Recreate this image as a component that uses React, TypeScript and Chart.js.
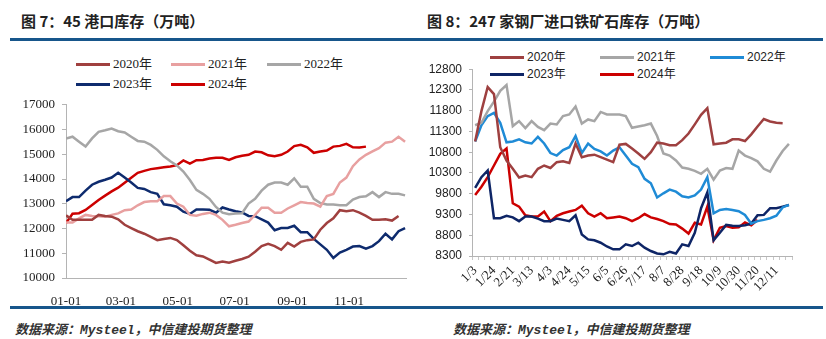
import React, { useEffect, useRef } from 'react';
import { Chart, registerables } from 'chart.js';

Chart.register(...registerables);

// ---------------- 图 7：45 港口库存 ----------------
const PORT_TITLE = '图 7：45 港口库存（万吨）';
const PORT_SERIES = ['2020年', '2021年', '2022年', '2023年', '2024年'];
const PORT_WEEK_DAYS = [0, 7, 14, 21, 28, 35, 42, 49, 56, 63, 70, 77, 84, 91, 98, 105, 112, 119, 126, 133, 140, 147, 154, 161, 168, 175, 182, 189, 196, 203, 210, 217, 224, 231, 238, 245, 252, 259, 266, 273, 280, 287, 294, 301, 308, 315, 322, 329, 336, 343, 350, 357, 364];
const PORT_TICK_DAYS = [0, 59, 120, 181, 243, 304];
const PORT_TICK_LABELS = ['01-01', '03-01', '05-01', '07-01', '09-01', '11-01'];
const PORT_Y_MIN = 10000;
const PORT_Y_MAX = 17000;
const PORT_Y_STEP = 1000;

const PORT_2020 = [12530, 12350, 12350, 12350, 12350, 12550, 12510, 12480, 12370, 12150, 12020, 11890, 11790, 11660, 11530, 11580, 11620, 11530, 11320, 11100, 10920, 10870, 10740, 10610, 10670, 10620, 10700, 10770, 10860, 11060, 11290, 11380, 11290, 11140, 11420, 11270, 11460, 11530, 11560, 11950, 12220, 12410, 12740, 12700, 12740, 12640, 12510, 12350, 12350, 12370, 12320, 12510];
const PORT_2021 = [12240, 12240, 12410, 12550, 12510, 12500, 12480, 12550, 12610, 12740, 12770, 12940, 13070, 13100, 13100, 13310, 13310, 13010, 12880, 12550, 12520, 12590, 12640, 12550, 12350, 12090, 12150, 12220, 12280, 12550, 12840, 12840, 12640, 12640, 12810, 12940, 13070, 13030, 13010, 12880, 13310, 13400, 13860, 14060, 14520, 14790, 14980, 15120, 15250, 15470, 15510, 15710, 15510];
const PORT_2022 = [15640, 15710, 15510, 15310, 15640, 15910, 15970, 16040, 15930, 15880, 15710, 15540, 15510, 15380, 15180, 14920, 14720, 14550, 14300, 13960, 13560, 13400, 13200, 12870, 12640, 12580, 12610, 12620, 13010, 13200, 13530, 13770, 13860, 13860, 13770, 14030, 13690, 13690, 13200, 13030, 12970, 12970, 12940, 12940, 13170, 13270, 13300, 13470, 13270, 13470, 13400, 13400, 13340];
const PORT_2023 = [13100, 13270, 13270, 13530, 13770, 13890, 13970, 14060, 14250, 14060, 13860, 13640, 13600, 13470, 13400, 12980, 12940, 12880, 12680, 12590, 12770, 12770, 12760, 12640, 12850, 12770, 12700, 12650, 12510, 12500, 12370, 12240, 11930, 12020, 12020, 12110, 11850, 11850, 11580, 11360, 11140, 10810, 11030, 11140, 11270, 11290, 11190, 11290, 11490, 11790, 11560, 11890, 12020];
const PORT_2024 = [12220, 12600, 12620, 12750, 12950, 13150, 13330, 13500, 13650, 13850, 14050, 14250, 14330, 14400, 14440, 14480, 14510, 14560, 14750, 14620, 14760, 14770, 14830, 14860, 14860, 14770, 14880, 14940, 14980, 15110, 15080, 14960, 14920, 14980, 15110, 15330, 15380, 15280, 15060, 15110, 15150, 15310, 15340, 15420, 15280, 15270, 15310];
const PORT_COLORS = ['#A0403F', '#E8A0A0', '#A6A6A6', '#0E2B6E', '#CC0000'];

// ---------------- 图 8：247 家钢厂进口铁矿石库存 ----------------
const MILL_TITLE = '图 8：247 家钢厂进口铁矿石库存（万吨）';
const MILL_SERIES = ['2020年', '2021年', '2022年', '2023年', '2024年'];
const MILL_DATES = ['1/3', '1/10', '1/17', '1/24', '1/31', '2/7', '2/21', '2/28', '3/6', '3/13', '3/20', '3/27', '4/3', '4/10', '4/17', '4/24', '5/1', '5/8', '5/15', '5/22', '5/29', '6/5', '6/12', '6/19', '6/26', '7/3', '7/10', '7/17', '7/24', '7/31', '8/7', '8/14', '8/21', '8/28', '9/4', '9/11', '9/18', '9/25', '10/2', '10/9', '10/16', '10/23', '10/30', '11/6', '11/13', '11/20', '11/27', '12/4', '12/11', '12/18', '12/25'];
const MILL_Y_MIN = 8300;
const MILL_Y_MAX = 12800;
const MILL_Y_STEP = 500;

const MILL_2020 = [11060, 11790, 12370, 12200, 10920, 10600, 10400, 10190, 10240, 10200, 10400, 10480, 10420, 10560, 10580, 10540, 11010, 10680, 10720, 10740, 10680, 10620, 10560, 10980, 11000, 10890, 10770, 10640, 10800, 11030, 11010, 10970, 10970, 11090, 11250, 11470, 11700, 11860, 10990, 11010, 11030, 11110, 11110, 11070, 11230, 11420, 11600, 11540, 11510, 11500];
const MILL_2021 = [11450, 11510, 11790, 12020, 12280, 12420, 11430, 11550, 11380, 11550, 11410, 11330, 11490, 11470, 11670, 11710, 11900, 11490, 11590, 11550, 11770, 11710, 11710, 11710, 11670, 11390, 11420, 11450, 11490, 11190, 10770, 10720, 10600, 10430, 10400, 10350, 10280, 10400, 10140, 10360, 10420, 10400, 10840, 10720, 10660, 10580, 10400, 10330, 10600, 10830, 11000];
const MILL_2022 = [11060, 11450, 11670, 11750, 11510, 11040, 11060, 11110, 11040, 11010, 11170, 11010, 10780, 10720, 10850, 10920, 11190, 10780, 11010, 10880, 10820, 10720, 10840, 10920, 10720, 10520, 10440, 10160, 10050, 9710, 9810, 9900, 9850, 9740, 9710, 9760, 9900, 10200, 9330, 9410, 9430, 9410, 9380, 9290, 9080, 9140, 9170, 9210, 9270, 9470, 9530];
const MILL_2023 = [9940, 10200, 10360, 9210, 9210, 9270, 9230, 9140, 9250, 9250, 9200, 9140, 9140, 9200, 9170, 9140, 9280, 8820, 8700, 8680, 8620, 8530, 8460, 8460, 8580, 8540, 8620, 8500, 8420, 8360, 8340, 8400, 8360, 8580, 8540, 8860, 9450, 9830, 8680, 8860, 9050, 9030, 9020, 9040, 9080, 9280, 9290, 9450, 9450, 9490, 9530];
const MILL_2024 = [9770, 9970, 10200, 10480, 10760, 10890, 9570, 9490, 9280, 9250, 9250, 9370, 9140, 9270, 9330, 9370, 9410, 9510, 9330, 9250, 9330, 9210, 9230, 9250, 9210, 9140, 9210, 9310, 9230, 9190, 9140, 9070, 9060, 8960, 8840, 9100, 9060, 9490, 8680, 8980, 9020, 8980, 8990, 9110, 9040, 9170];
const MILL_COLORS = ['#9E4040', '#A6A6A6', '#1F8BD6', '#0E2566', '#CC0000'];

const SOURCE_TEXT = '数据来源：Mysteel，中信建投期货整理';

const RULE_COLOR = '#17568B';
const AXIS_COLOR = '#B4B4B4';
const TEXT_COLOR = '#222222';
const SERIF = "'Liberation Serif', 'Noto Sans CJK SC', serif";
const SANS = "'Liberation Sans', 'Noto Sans CJK SC', sans-serif";

function lineDataset(label: string, data: number[], color: string) {
  return {
    label,
    data,
    borderColor: color,
    backgroundColor: color,
    borderWidth: 2.5,
    pointRadius: 0,
    pointHoverRadius: 0,
    tension: 0,
    fill: false,
  };
}

const plainNumber = (v: any) => String(v);

function portConfig(): any {
  const series = [PORT_2020, PORT_2021, PORT_2022, PORT_2023, PORT_2024];
  return {
    type: 'line',
    data: {
      labels: PORT_WEEK_DAYS,
      datasets: series.map((d, i) => lineDataset(PORT_SERIES[i], d, PORT_COLORS[i])),
    },
    options: {
      animation: false,
      responsive: false,
      devicePixelRatio: 1,
      layout: { padding: { top: 11, right: 4, left: 0, bottom: 0 } },
      plugins: { legend: { display: false }, tooltip: { enabled: false } },
      scales: {
        x: {
          type: 'linear',
          min: 0,
          max: 365,
          grid: { display: false },
          border: { display: true, color: AXIS_COLOR, width: 1 },
          afterBuildTicks: (s: any) => {
            s.ticks = PORT_TICK_DAYS.map((v) => ({ value: v }));
          },
          afterFit: (s: any) => {
            s.height = 30;
          },
          ticks: {
            autoSkip: false,
            maxRotation: 0,
            minRotation: 0,
            padding: 8,
            color: TEXT_COLOR,
            font: { family: SERIF, size: 13 },
            callback: (v: any) => {
              const k = PORT_TICK_DAYS.indexOf(Number(v));
              return k >= 0 ? PORT_TICK_LABELS[k] : '';
            },
          },
        },
        y: {
          min: PORT_Y_MIN,
          max: PORT_Y_MAX,
          grid: { drawOnChartArea: false, tickLength: 4, color: AXIS_COLOR },
          border: { display: true, color: AXIS_COLOR, width: 1 },
          afterFit: (s: any) => {
            s.width = 56;
          },
          ticks: {
            stepSize: PORT_Y_STEP,
            padding: 7,
            color: TEXT_COLOR,
            font: { family: SERIF, size: 13 },
            callback: plainNumber,
          },
        },
      },
    },
  };
}

function millConfig(): any {
  const series = [MILL_2020, MILL_2021, MILL_2022, MILL_2023, MILL_2024];
  return {
    type: 'line',
    data: {
      labels: MILL_DATES,
      datasets: series.map((d, i) => lineDataset(MILL_SERIES[i], d, MILL_COLORS[i])),
    },
    options: {
      animation: false,
      responsive: false,
      devicePixelRatio: 1,
      layout: { padding: { top: 11, right: 5, left: 0, bottom: 0 } },
      plugins: { legend: { display: false }, tooltip: { enabled: false } },
      scales: {
        x: {
          type: 'category',
          offset: true,
          grid: { display: true, offset: true, drawOnChartArea: false, tickLength: 4, color: '#C8C8C8' },
          border: { display: true, color: AXIS_COLOR, width: 1 },
          afterFit: (s: any) => {
            s.height = 40;
          },
          ticks: {
            autoSkip: false,
            maxRotation: 45,
            minRotation: 45,
            padding: 3,
            color: TEXT_COLOR,
            font: { family: SERIF, size: 13 },
            callback: (_v: any, idx: number) => (idx % 3 === 0 ? MILL_DATES[idx] : ''),
          },
        },
        y: {
          min: MILL_Y_MIN,
          max: MILL_Y_MAX,
          grid: { drawOnChartArea: false, tickLength: 3, color: AXIS_COLOR },
          border: { display: true, color: AXIS_COLOR, width: 1 },
          afterFit: (s: any) => {
            s.width = 59;
          },
          ticks: {
            stepSize: MILL_Y_STEP,
            padding: 7,
            color: TEXT_COLOR,
            font: { family: SANS, size: 12 },
            callback: plainNumber,
          },
        },
      },
    },
  };
}

function ChartCanvas(props: { make: () => any; left: number; top: number; width: number; height: number }) {
  const ref = useRef<HTMLCanvasElement>(null);
  useEffect(() => {
    const chart = new Chart(ref.current as HTMLCanvasElement, props.make());
    return () => chart.destroy();
  }, []);
  return (
    <canvas
      ref={ref}
      width={props.width}
      height={props.height}
      style={{ position: 'absolute', left: props.left, top: props.top, width: props.width, height: props.height }}
    />
  );
}

function LegendItem(props: { left: number; top: number; color: string; text: string; font: string; size: number }) {
  return (
    <div style={{ position: 'absolute', left: props.left, top: props.top - 8, height: 16, display: 'flex', alignItems: 'center', whiteSpace: 'nowrap' }}>
      <span style={{ display: 'inline-block', width: 34, height: 3, background: props.color, marginRight: 3 }} />
      <span style={{ fontFamily: props.font, fontSize: props.size, color: TEXT_COLOR, lineHeight: '16px' }}>{props.text}</span>
    </div>
  );
}

export default function App() {
  const titleStyle: React.CSSProperties = {
    position: 'absolute',
    top: 13,
    fontFamily: "'Noto Sans CJK SC', sans-serif",
    fontSize: 15,
    fontWeight: 'bold',
    lineHeight: '16px',
    color: '#222',
    whiteSpace: 'nowrap',
  };
  const sourceStyle: React.CSSProperties = {
    position: 'absolute',
    top: 323,
    fontFamily: "'Liberation Mono', 'Noto Sans CJK SC', monospace",
    fontStyle: 'italic',
    fontWeight: 'bold',
    fontSize: 13,
    lineHeight: '16px',
    color: '#333',
    whiteSpace: 'nowrap',
  };
  const portCols = [76, 171, 267];
  const portRows = [64, 84];
  const millCols = [490, 600, 710];
  const millRows = [57, 74];
  return (
    <div style={{ position: 'absolute', left: 0, top: 0, width: 826, height: 339, background: '#fff', overflow: 'hidden' }}>
      <div style={{ ...titleStyle, left: 21 }}>{PORT_TITLE}</div>
      <div style={{ ...titleStyle, left: 427 }}>{MILL_TITLE}</div>
      <div style={{ position: 'absolute', left: 10, top: 38, width: 813, height: 3, background: RULE_COLOR }} />

      {PORT_SERIES.map((s, i) => (
        <LegendItem key={'p' + s} left={portCols[i % 3]} top={portRows[Math.floor(i / 3)]} color={PORT_COLORS[i]} text={s} font={SERIF} size={13} />
      ))}
      {MILL_SERIES.map((s, i) => (
        <LegendItem key={'m' + s} left={millCols[i % 3]} top={millRows[Math.floor(i / 3)]} color={MILL_COLORS[i]} text={s} font={SANS} size={12} />
      ))}

      <ChartCanvas make={portConfig} left={10} top={90} width={400} height={218} />
      <ChartCanvas make={millConfig} left={413} top={55} width={390} height={241} />

      <div style={{ position: 'absolute', left: 10, top: 306, width: 813, height: 3, background: RULE_COLOR }} />
      <div style={{ ...sourceStyle, left: 15 }}>{SOURCE_TEXT}</div>
      <div style={{ ...sourceStyle, left: 453 }}>{SOURCE_TEXT}</div>
    </div>
  );
}
